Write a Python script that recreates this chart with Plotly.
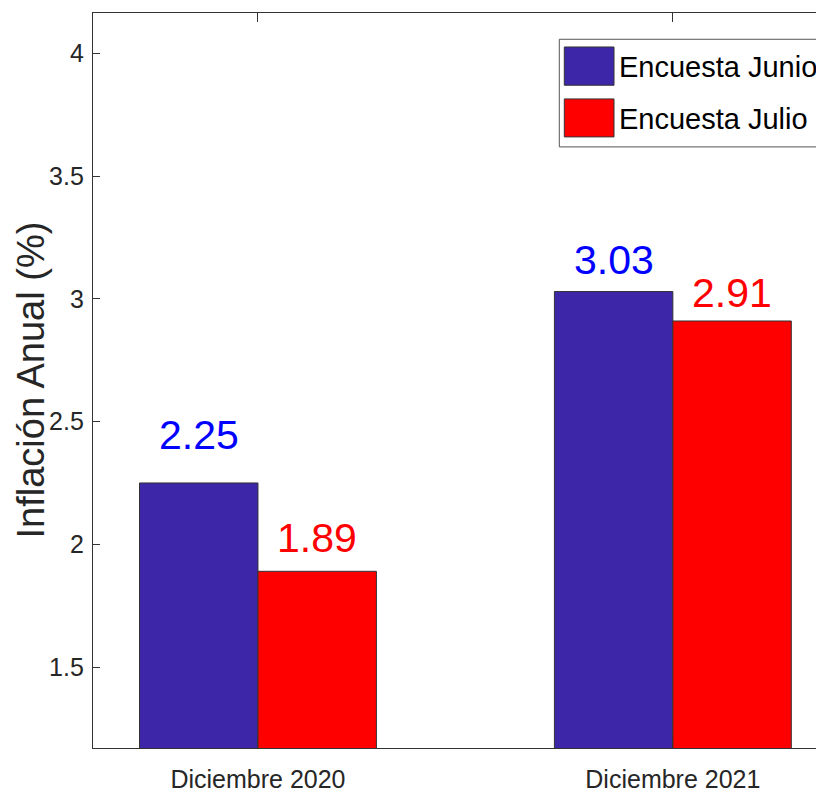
import plotly.graph_objects as go

# podaci
kategorije = ['Diciembre 2020', 'Diciembre 2021']
serije = ['Encuesta Junio', 'Encuesta Julio']
junio = [2.25, 3.03]
julio = [1.89, 2.91]
boje = ['rgb(62,38,168)', 'rgb(255,0,0)']
boje_teksta = ['rgb(0,0,255)', 'rgb(255,0,0)']
y_tickovi = [1.5, 2, 2.5, 3, 3.5, 4]

W, H = 816, 793
L, T, B = 93, 12.7, 748.3   # rubovi grafa u pikselima
SANS = 'Liberation Sans, Arial, sans-serif'


def px_x(p):
    return (p - L) / (W - L)


def px_y(p):
    return (B - p) / (B - T)


fig = go.Figure()
for ime, vrijednosti, boja in zip(serije, [junio, julio], boje):
    fig.add_trace(go.Bar(
        x=kategorije, y=vrijednosti, name=ime,
        marker=dict(color=boja, line=dict(color='#333333', width=1)),
        showlegend=False,
    ))

# oznake vrijednosti iznad stupaca
pomak_x = [-0.1428, 0.1428]
pomak_y = [[0.127, 0.059], [0.067, 0.044]]
for s, vrijednosti in enumerate([junio, julio]):
    for i, v in enumerate(vrijednosti):
        fig.add_annotation(
            x=i + pomak_x[s], y=v + pomak_y[s][i], xref='x', yref='y',
            text=f'{v:.2f}', showarrow=False, yanchor='bottom', yshift=-8,
            font=dict(family=SANS, size=41, color=boje_teksta[s]),
        )

# legenda (ručno, jer je u originalu odrezana desnim rubom)
fig.add_shape(type='rect', xref='paper', yref='paper',
              x0=px_x(559.3), x1=px_x(830), y0=px_y(146.7), y1=px_y(39),
              line=dict(color='#555555', width=1), fillcolor='white', layer='above')
redovi = [(46.7, 85), (98.7, 136.7)]
for (g, d), ime, boja in zip(redovi, serije, boje):
    fig.add_shape(type='rect', xref='paper', yref='paper',
                  x0=px_x(564.3), x1=px_x(614), y0=px_y(d), y1=px_y(g),
                  line=dict(color='#333333', width=1), fillcolor=boja, layer='above')
    fig.add_annotation(x=px_x(617), y=px_y((g + d) / 2 + 1), xref='paper', yref='paper',
                       text=ime, showarrow=False, xanchor='left', yanchor='middle',
                       font=dict(family=SANS, size=29, color='black'))

# naslov y osi
fig.add_annotation(x=px_x(30), y=0.5, xref='paper', yref='paper',
                   text='Inflación Anual (%)', textangle=-90, showarrow=False,
                   xanchor='center', yanchor='middle',
                   font=dict(family=SANS, size=38, color='#262626'))

fig.update_layout(
    width=W, height=H,
    margin=dict(l=L, r=0, t=T, b=H - B, pad=0),
    plot_bgcolor='white', paper_bgcolor='white',
    barmode='group', bargap=0.429, bargroupgap=0,
    font=dict(family=SANS, color='#262626'),
    xaxis=dict(
        range=[-0.3976, 1.345], showline=True, linecolor='#333333', linewidth=1.3,
        mirror='ticks', ticks='inside', ticklen=9, tickcolor='#333333',
        tickfont=dict(family=SANS, size=25, color='#262626'),
        ticklabelstandoff=9, showgrid=False, zeroline=False,
    ),
    yaxis=dict(
        range=[1.17, 4.165], tickvals=y_tickovi, ticktext=[f'{v:g}' for v in y_tickovi],
        showline=True, linecolor='#333333', linewidth=1.3, mirror=False,
        ticks='inside', ticklen=7, tickcolor='#333333',
        tickfont=dict(family=SANS, size=25, color='#262626'),
        ticklabelstandoff=3, showgrid=False, zeroline=False,
    ),
)

# bez margine stranice, da graf počinje u gornjem lijevom kutu
fig.write_html('out.html', config={'displayModeBar': False},
               post_script="document.body.style.margin='0';document.body.style.overflow='hidden';")
